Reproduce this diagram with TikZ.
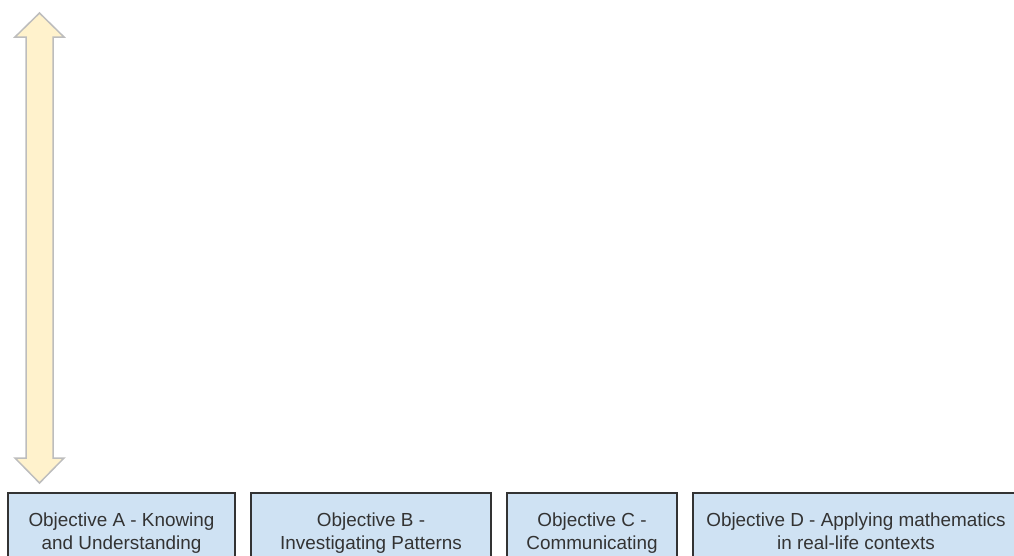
\documentclass[tikz,border=0pt]{standalone}
\usepackage{fontspec}
\setmainfont{Liberation Sans}
\definecolor{boxfill}{HTML}{CFE2F3}
\definecolor{boxline}{HTML}{333333}
\definecolor{arrfill}{HTML}{FFF2CC}
\definecolor{arrline}{HTML}{BDBDBD}
\definecolor{txt}{HTML}{333333}
\begin{document}
\begin{tikzpicture}[x=1pt,y=-1pt,
  objbox/.style={draw=boxline, line width=2pt, fill=boxfill, text=txt,
    align=center, inner sep=0pt, minimum height=75pt,
    font=\fontsize{18.9}{23}\selectfont},
  bigarrow/.style={draw=arrline, line width=1.5pt, fill=arrfill, line join=miter}]
\useasboundingbox (0,0) rectangle (1014,555);
\clip (0,0) rectangle (1014,555);
% double-headed arrow
\draw[bigarrow] (39.5,13) -- (64,37) -- (53,37) -- (53,458) -- (64,458)
  -- (39.5,483) -- (15,458) -- (26,458) -- (26,37) -- (15,37) -- cycle;
% objective boxes
\node[objbox, minimum width=227pt, minimum height=80pt] (a) at (121.5,533) {Objective A - Knowing\\and Understanding};
\node[objbox, minimum width=240pt, minimum height=80pt] (b) at (371,533) {Objective B -\\Investigating Patterns};
\node[objbox, minimum width=170pt, minimum height=80pt] (c) at (592,533) {Objective C -\\Communicating};
\node[objbox, minimum width=326pt, minimum height=76pt] (d) at (856,531) {Objective D - Applying mathematics\\in real-life contexts};
\end{tikzpicture}
\end{document}
